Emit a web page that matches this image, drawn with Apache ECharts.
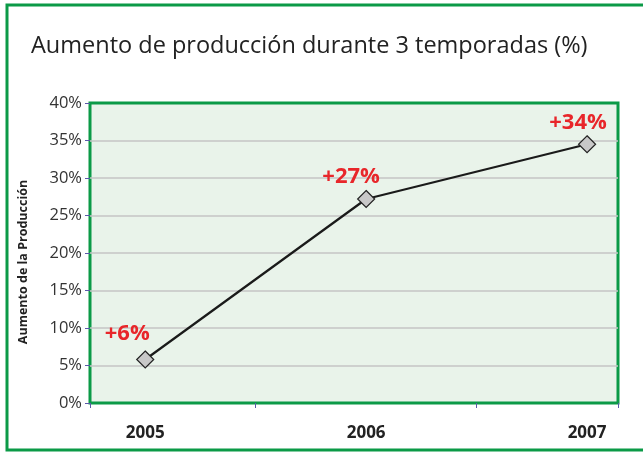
<!DOCTYPE html>
<html><head><meta charset="utf-8">
<script src="https://cdn.jsdelivr.net/npm/echarts@6/dist/echarts.min.js"></script>
<style>html,body{margin:0;padding:0;background:#fff}#c{width:643px;height:453px}</style>
</head><body><div id="c"></div>
<script>
const titleText = 'Aumento de producción durante 3 temporadas (%)';
const yAxisName = 'Aumento de la Producción';
const years = [2005, 2006, 2007];
const values = [5.8, 27.2, 34.5];
const labels = ['+6%', '+27%', '+34%'];
const xTickMarks = [2004.75, 2005.5, 2006.5, 2007.14];

const labelOffsets = [[-18, 4], [-15, 8], [-9, 9]];
const chart = echarts.init(document.getElementById('c'));
chart.setOption({
  animation: false,
  backgroundColor: '#fff',
  title: {
    text: titleText, left: 26, top: 29,
    textStyle: {fontFamily: 'Open Sans', fontWeight: 'normal', fontSize: 23.5, color: '#222'}
  },
  graphic: [{
    type: 'rect', shape: {x: 7, y: 5, width: 700, height: 445},
    style: {fill: 'none', stroke: '#0b9a47', lineWidth: 3}, z: 100
  }],
  grid: {left: 90, right: 25, top: 103, bottom: 50, show: true,
    backgroundColor: '#e9f3ea', borderColor: '#0b9a47', borderWidth: 3},
  xAxis: {
    type: 'value', min: 2004.75, max: 2007.14,
    axisLine: {show: false},
    splitLine: {show: false},
    axisTick: {show: true, length: 5, customValues: xTickMarks, lineStyle: {color: '#5a5aa8'}},
    axisLabel: {customValues: years, margin: 22, fontFamily: 'Open Sans', fontWeight: 'bold', fontSize: 17, color: '#222',
      formatter: v => String(Math.round(v))}
  },
  yAxis: {
    type: 'value', min: 0, max: 40, interval: 5,
    name: yAxisName, nameLocation: 'middle', nameGap: 60, nameRotate: 90,
    nameTextStyle: {fontFamily: 'Open Sans', fontWeight: 'bold', fontSize: 12.5, color: '#222', padding: [0, 0, 0, -18]},
    axisLine: {show: false},
    axisTick: {show: true, length: 5, lineStyle: {color: '#5a5aa8'}},
    splitLine: {showMinLine: false, showMaxLine: false, lineStyle: {color: '#c4c4c4', width: 1.5}},
    axisLabel: {fontFamily: 'Open Sans', fontSize: 16.5, color: '#333', margin: 8, formatter: v => v + '%'}
  },
  series: [{
    type: 'line',
    data: years.map((y, i) => ({
      value: [y, values[i]],
      label: {show: true, position: 'top', formatter: labels[i], offset: labelOffsets[i], distance: 10,
        fontFamily: 'Open Sans', fontWeight: 'bold', fontSize: 22, color: '#e8262a'}
    })),
    symbol: 'diamond', symbolSize: 17,
    itemStyle: {color: '#c8c8c8', borderColor: '#222', borderWidth: 1.2},
    lineStyle: {color: '#1a1a1a', width: 2.2},
    z: 5
  }]
});
</script></body></html>
